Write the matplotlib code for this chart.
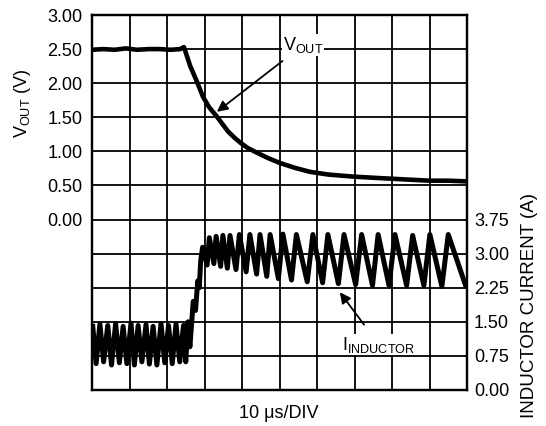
import matplotlib
matplotlib.use("Agg")
import matplotlib.pyplot as plt

plt.rcParams["font.family"] = ["Liberation Sans", "DejaVu Sans"]
plt.rcParams["mathtext.fontset"] = "custom"
plt.rcParams["mathtext.rm"] = "Liberation Sans"
plt.rcParams["mathtext.it"] = "Liberation Sans"

# time axis in divisions (10 us/DIV)
vout_t = [0, 0.3, 0.6, 0.9, 1.2, 1.5, 1.8, 2.1, 2.35, 2.45, 2.50, 2.62, 2.80,
          2.96, 3.12, 3.33, 3.48, 3.63, 3.80, 3.95, 4.15, 4.4, 4.7, 5.01,
          5.4, 5.81, 6.3, 6.96, 7.6, 8.29, 9.0, 9.5, 10]
vout_v = [2.49, 2.50, 2.49, 2.51, 2.49, 2.50, 2.50, 2.49, 2.50, 2.53, 2.45,
          2.25, 2.02, 1.80, 1.65, 1.51, 1.40, 1.29, 1.20, 1.13, 1.05, 0.98,
          0.90, 0.83, 0.76, 0.70, 0.66, 0.63, 0.61, 0.59, 0.57, 0.57, 0.56]

# inductor current vertices (peaks / valleys of the ripple)
il_t = [0.02, 0.11, 0.21, 0.31, 0.42, 0.52, 0.63, 0.73, 0.83, 0.93, 1.04,
        1.13, 1.23, 1.33, 1.44, 1.53, 1.63, 1.73, 1.84, 1.94, 2.04, 2.14,
        2.24, 2.34, 2.44, 2.50, 2.56, 2.61, 2.70, 2.76, 2.82, 2.86, 2.90,
        2.95, 3.07, 3.13, 3.25, 3.31, 3.43, 3.49, 3.61, 3.68, 3.84, 3.93,
        4.11, 4.21, 4.39, 4.48, 4.66, 4.75, 4.97, 5.09, 5.32, 5.45, 5.74,
        5.89, 6.15, 6.29, 6.57, 6.72, 7.03, 7.19, 7.48, 7.63, 7.92, 8.08,
        8.39, 8.55, 8.85, 9.01, 9.33, 9.50, 9.97, 10.0]
il_a = [1.40, 0.58, 1.45, 0.62, 1.42, 0.55, 1.46, 0.60, 1.40, 0.58, 1.47,
        0.55, 1.42, 0.62, 1.44, 0.57, 1.40, 0.55, 1.46, 0.60, 1.42, 0.58,
        1.45, 0.62, 1.42, 0.62, 1.50, 0.95, 1.95, 1.75, 2.40, 2.25, 2.85,
        3.14, 2.75, 3.35, 2.78, 3.38, 2.72, 3.40, 2.68, 3.40, 2.65, 3.42,
        2.60, 3.42, 2.55, 3.42, 2.50, 3.42, 2.45, 3.43, 2.42, 3.42, 2.38,
        3.42, 2.36, 3.42, 2.34, 3.42, 2.32, 3.42, 2.30, 3.42, 2.30, 3.42,
        2.30, 3.40, 2.30, 3.42, 2.28, 3.42, 2.28, 2.35]

v_ticks = [-2.5, -2.0, -1.5, -1.0, -0.5, 0.0, 0.5, 1.0, 1.5, 2.0, 2.5, 3.0]
v_labels = ["", "", "", "", "", "0.00", "0.50", "1.00", "1.50", "2.00",
            "2.50", "3.00"]
i_ticks = [0.0, 0.75, 1.5, 2.25, 3.0, 3.75]
i_labels = ["0.00", "0.75", "1.50", "2.25", "3.00", "3.75"]

fig = plt.figure(figsize=(5.46, 4.26), dpi=100)
ax = fig.add_axes([92 / 546, 36 / 426, 375 / 546, 375 / 426])

ax.set_xlim(0, 10)
ax.set_ylim(-2.5, 3.0)
ax.set_xticks(range(11))
ax.set_xticklabels([])
ax.set_yticks(v_ticks)
ax.set_yticklabels(v_labels, fontsize=13)
ax.tick_params(length=0, pad=7)
ax.grid(True, color="black", linewidth=1.3)
for s in ax.spines.values():
    s.set_linewidth(1.6)

ax.plot(vout_t, vout_v, color="black", linewidth=3.3, solid_joinstyle="round")

ax.set_ylabel(r"$\mathrm{V_{OUT}}$ (V)", fontsize=13)
ax.yaxis.set_label_coords(-0.157, 0.765)
ax.set_xlabel("10 \u03bcs/DIV", fontsize=13)
ax.xaxis.set_label_coords(0.497, -0.04)

ax.annotate(r"$\mathrm{V_{OUT}}$", xy=(3.33, 1.58), xytext=(5.63, 2.56),
            fontsize=13, ha="center", va="center",
            bbox=dict(boxstyle="square,pad=0.05", fc="white", ec="none"),
            arrowprops=dict(arrowstyle="-|>", color="black", lw=1.3,
                            mutation_scale=16, shrinkA=6, shrinkB=0))

ax2 = ax.twinx()
ax2.set_ylim(0, 8.25)
ax2.set_yticks(i_ticks)
ax2.set_yticklabels(i_labels, fontsize=13)
ax2.tick_params(length=0, pad=5)
for s in ax2.spines.values():
    s.set_linewidth(1.6)

ax2.plot(il_t, il_a, color="black", linewidth=3.6, solid_joinstyle="round")

ax2.set_ylabel("INDUCTOR CURRENT (A)", fontsize=13.5)
ax2.yaxis.set_label_coords(1.143, 0.224)

ax2.annotate(r"$\mathrm{I_{INDUCTOR}}$", xy=(6.61, 2.15), xytext=(7.65, 1.0),
             fontsize=13, ha="center", va="center",
             bbox=dict(boxstyle="square,pad=0.05", fc="white", ec="none"),
             arrowprops=dict(arrowstyle="-|>", color="black", lw=1.3,
                             mutation_scale=16, shrinkA=8, shrinkB=0))

fig.savefig("out.png", dpi=100)
